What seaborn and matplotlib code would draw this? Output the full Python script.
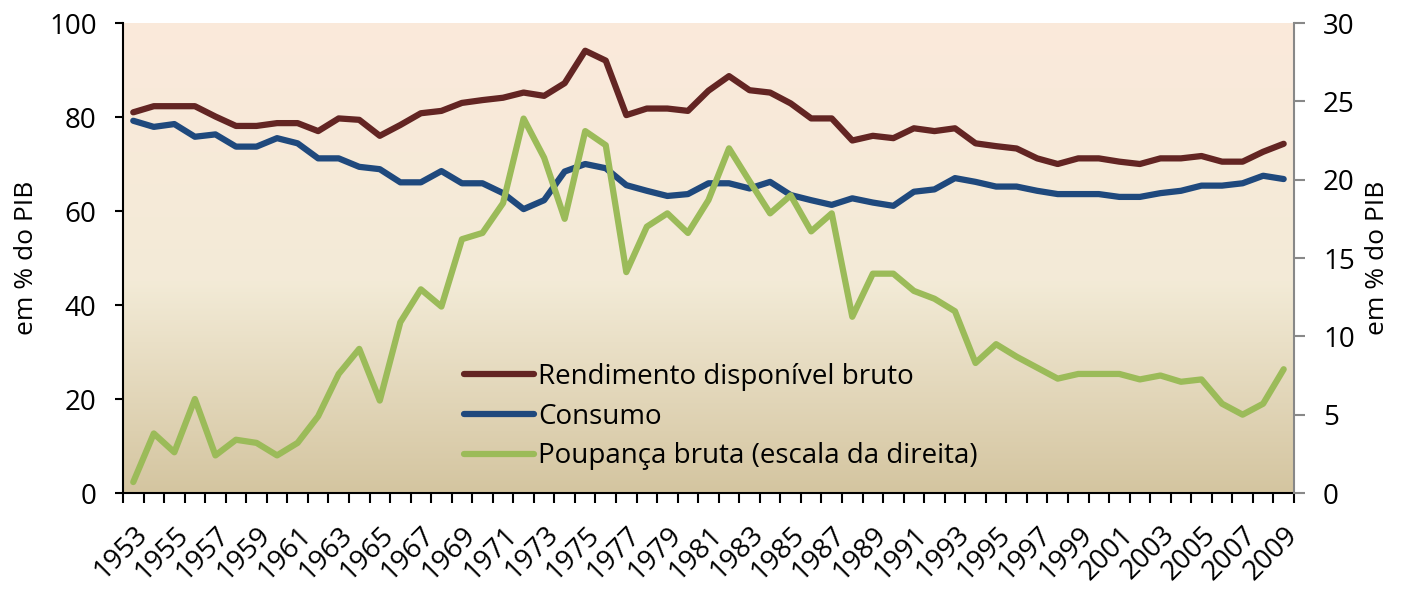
import seaborn as sns, matplotlib.pyplot as plt, numpy as np
import pandas as pd

years = list(range(1953, 2010))

rendimento = [81.0, 82.3, 82.3, 82.3, 80.1, 78.1, 78.1, 78.7, 78.7, 77.0,
              79.7, 79.4, 76.0, 78.3, 80.8, 81.3, 83.0, 83.6, 84.1, 85.2,
              84.5, 87.2, 94.1, 92.0, 80.4, 81.8, 81.8, 81.3, 85.6, 88.7,
              85.7, 85.2, 82.9, 79.7, 79.7, 75.0, 76.0, 75.5, 77.6, 77.0,
              77.6, 74.4, 73.8, 73.3, 71.2, 70.0, 71.2, 71.2, 70.5, 70.0,
              71.2, 71.2, 71.7, 70.5, 70.5, 72.6, 74.3]
consumo = [79.2, 77.9, 78.5, 75.8, 76.3, 73.7, 73.7, 75.5, 74.4, 71.2,
           71.2, 69.4, 68.9, 66.1, 66.1, 68.5, 65.9, 65.9, 63.8, 60.4,
           62.3, 68.4, 70.0, 69.1, 65.5, 64.3, 63.2, 63.6, 65.9, 65.9,
           64.8, 66.2, 63.4, 62.3, 61.3, 62.7, 61.8, 61.1, 64.1, 64.6,
           67.0, 66.2, 65.2, 65.2, 64.3, 63.6, 63.6, 63.6, 63.0, 63.0,
           63.8, 64.3, 65.4, 65.4, 65.9, 67.5, 66.8]
poupanca = [0.7, 3.8, 2.6, 6.0, 2.4, 3.4, 3.2, 2.4, 3.2, 4.9,
            7.6, 9.2, 5.9, 10.9, 13.0, 11.9, 16.2, 16.6, 18.5, 23.9,
            21.4, 17.5, 23.1, 22.2, 14.1, 17.0, 17.85, 16.6, 18.7, 22.0,
            19.9, 17.85, 19.0, 16.7, 17.85, 11.25, 14.0, 14.0, 12.9, 12.4,
            11.6, 8.3, 9.5, 8.7, 8.0, 7.3, 7.6, 7.6, 7.6, 7.25,
            7.5, 7.1, 7.25, 5.7, 5.0, 5.7, 7.9]

labels = ["Rendimento disponível bruto", "Consumo",
          "Poupança bruta (escala da direita)"]
colors = ["#632523", "#1F497D", "#9BBB59"]

df = pd.DataFrame({"idx": np.arange(len(years)), "year": years,
                   "rend": rendimento, "cons": consumo, "poup": poupanca})

sns.set_style("white")
plt.rcParams['font.family'] = ['Open Sans', 'DejaVu Sans']
plt.rcParams['text.color'] = 'black'
plt.rcParams['axes.labelcolor'] = 'black'
plt.rcParams['xtick.labelcolor'] = 'black'
plt.rcParams['ytick.labelcolor'] = 'black'

fig = plt.figure(figsize=(14.12, 5.96), dpi=100)
ax = fig.add_axes([0.0871, 0.1728, 0.8293, 0.7886])

# gradient background (peach -> cream -> tan)
top = np.array([251, 233, 219]) / 255
mid = np.array([243, 235, 215]) / 255
bot = np.array([212, 197, 160]) / 255
t = np.linspace(0, 1, 256)[:, None]
grad = np.where(t < 0.55, top + (mid - top) * (t / 0.55),
                mid + (bot - mid) * ((t - 0.55) / 0.45))
ax.imshow(grad[:, None, :], extent=[0, 1, 0, 1], transform=ax.transAxes,
          aspect='auto', zorder=0)

lw = 4.5
sns.lineplot(data=df, x="idx", y="rend", ax=ax, color=colors[0], lw=lw,
             solid_capstyle='round', zorder=3)
sns.lineplot(data=df, x="idx", y="cons", ax=ax, color=colors[1], lw=lw,
             solid_capstyle='round', zorder=3)

ax2 = ax.twinx()
sns.lineplot(data=df, x="idx", y="poup", ax=ax2, color=colors[2], lw=lw,
             solid_capstyle='round', zorder=3)

n = len(years)
ax.set_xlim(-0.5, n - 0.5)
ax.set_ylim(0, 100)
ax2.set_ylim(0, 30)
ax.set_yticks(range(0, 101, 20))
ax2.set_yticks(range(0, 31, 5))

# category boundaries as tick marks, labels on odd years
ax.set_xticks(np.arange(n + 1) - 0.5, minor=True)
ax.set_xticks(np.arange(0, n, 2))
ax.set_xticklabels([str(y) for y in years[::2]], rotation=45,
                   ha='right', va='top', rotation_mode='anchor')
ax.tick_params(axis='x', which='major', length=0, labelsize=20, pad=20)
ax.tick_params(axis='x', which='minor', length=7, width=1.5, color='black',
               direction='out', bottom=True)
ax.tick_params(axis='y', length=6, width=1.5, color='black', labelsize=20,
               direction='out', left=True, pad=13)
ax2.tick_params(axis='y', length=8, width=1.5, color='#888888', labelsize=20,
                direction='out', right=True, pad=13)

ax.set_xlabel("")
ax.set_ylabel("em % do PIB", fontsize=19, labelpad=7)
ax2.set_ylabel("em % do PIB", fontsize=19, labelpad=7)

for a in (ax, ax2):
    a.spines['top'].set_visible(False)
ax.spines['left'].set_color('black')
ax.spines['left'].set_linewidth(1.5)
ax.spines['bottom'].set_color('black')
ax.spines['bottom'].set_linewidth(1.5)
ax.spines['right'].set_visible(False)
ax2.spines['left'].set_visible(False)
ax2.spines['bottom'].set_visible(False)
ax2.spines['right'].set_color('#888888')
ax2.spines['right'].set_linewidth(1.5)

handles = [plt.Line2D([], [], color=c, lw=lw, solid_capstyle='round')
           for c in colors]
leg = ax2.legend(handles, labels, loc='lower left',
                 bbox_to_anchor=(0.27, -0.005), frameon=False, fontsize=20,
                 handlelength=2.5, handletextpad=0.15, labelspacing=0.42)

fig.savefig("out.png", dpi=100)
